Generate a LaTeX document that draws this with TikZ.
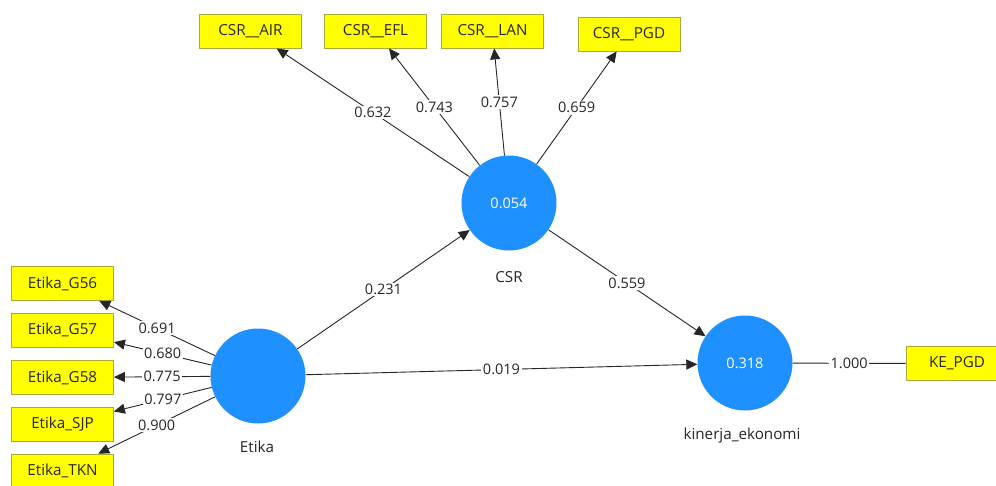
\documentclass[tikz,border=0pt]{standalone}
\usepackage{fontspec}
\setmainfont{Open Sans}
\usetikzlibrary{arrows.meta}
\definecolor{lvblue}{RGB}{30,144,255}
\definecolor{indyel}{RGB}{255,255,0}
\definecolor{indborder}{RGB}{170,170,60}
\tikzset{
  lv/.style={circle, fill=lvblue, draw=none, minimum size=95pt, inner sep=0pt, text=white, font=\fontsize{14.5}{16}\selectfont},
  ind/.style={rectangle, fill=indyel, draw=indborder, line width=0.8pt, minimum width=102pt, minimum height=34pt, inner sep=0pt, text=black!85, font=\fontsize{15.2}{17}\selectfont},
  lbl/.style={text=black!85, font=\fontsize{15.2}{17}\selectfont},
  conn/.style={draw=black!85, line width=0.9pt},
  arr/.style={conn, -{Triangle[length=11pt,width=10pt]}},
  wt/.style={midway, fill=white, inner sep=1.5pt, text=black!85, font=\fontsize{14.5}{16}\selectfont},
}
\begin{document}
\begin{tikzpicture}[x=1pt,y=-1pt]
\useasboundingbox (0,0) rectangle (996,485);
\clip (0,0) rectangle (996,485);
\fill[white] (0,0) rectangle (996,485);
% latent variables
\node[lv] (csr) at (509,203) {0.054};
\node[lv] (etika) at (258,376) {};
\node[lv] (ke) at (745,363) {0.318};
\node[lbl] (csrlab) at (509,277) {CSR};
\node[lbl] (etikalab) at (257,447) {Etika};
\node[lbl] (kelab) at (742,436) {kinerja\_ekonomi};
% indicators
\node[ind] (air) at (250.5,31) {CSR\_\_AIR};
\node[ind] (efl) at (375.5,31) {CSR\_\_EFL};
\node[ind] (lan) at (492.5,31) {CSR\_\_LAN};
\node[ind] (pgd) at (629,34) {CSR\_\_PGD};
\node[ind] (g56) at (62.5,283.5) {Etika\_G56};
\node[ind] (g57) at (62.5,330) {Etika\_G57};
\node[ind] (g58) at (62.5,377.5) {Etika\_G58};
\node[ind] (sjp) at (62.5,424) {Etika\_SJP};
\node[ind] (tkn) at (62.5,471) {Etika\_TKN};
\node[ind] (kepgd) at (957,363.5) {KE\_PGD};
% outer loadings CSR
\draw[arr] (csr) -- (air) node[wt] {0.632};
\draw[arr] (csr) -- (efl) node[wt] {0.743};
\draw[arr] (csr) -- (lan) node[wt] {0.757};
\draw[arr] (csr) -- (pgd) node[wt] {0.659};
% outer loadings Etika
\draw[arr] (etika) -- (g56) node[wt] {0.691};
\draw[arr] (etika) -- (g57) node[wt] {0.680};
\draw[arr] (etika) -- (g58) node[wt] {0.775};
\draw[arr] (etika) -- (sjp) node[wt] {0.797};
\draw[arr] (etika) -- (tkn) node[wt] {0.900};
% structural paths
\draw[arr] (etika) -- (csr) node[wt] {0.231};
\draw[arr] (csr) -- (ke) node[wt] {0.559};
\draw[arr] (etika) -- (ke) node[wt] {0.019};
\draw[conn] (ke) -- (kepgd) node[wt] {1.000};
\end{tikzpicture}
\end{document}
